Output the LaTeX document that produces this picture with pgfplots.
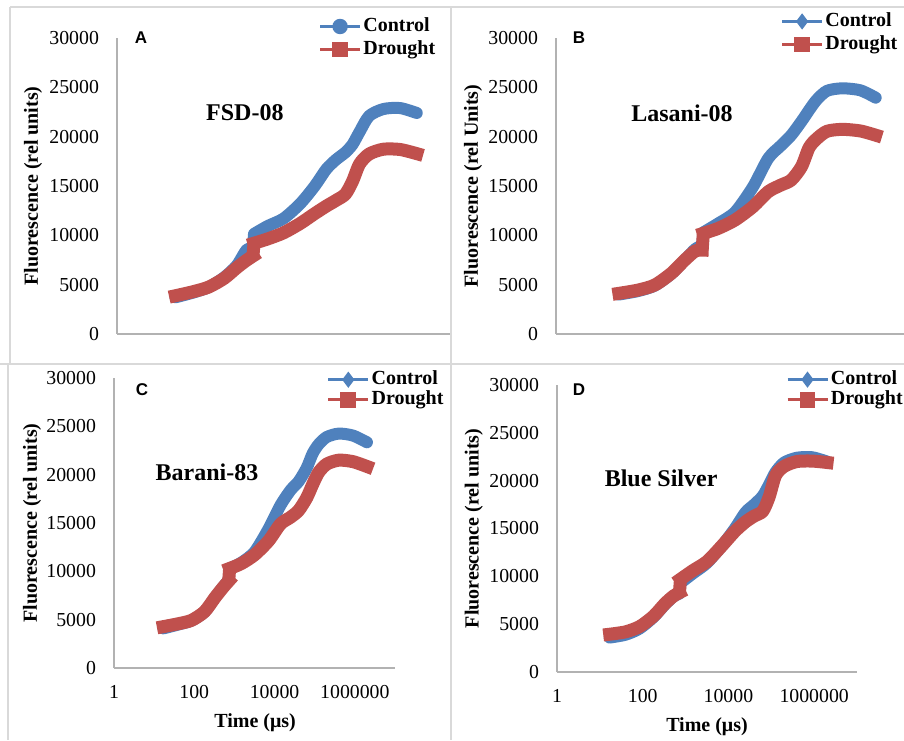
\documentclass[border=0pt]{standalone}
\usepackage{fontspec}
\setmainfont{Liberation Serif}
\newfontfamily\arialfont{Liberation Sans}
\usepackage{pgfplots}
\usepackage{pgfplotstable}
\pgfplotsset{compat=1.18}

\definecolor{ctrl}{HTML}{4F81BD}
\definecolor{drgt}{HTML}{C0504D}
\definecolor{frame}{HTML}{D9D9D9}

% time (us), control, drought
\pgfplotstableread{
t       ctrl   drought
17      3720   3880
40      4200   4290
85      4750   4760
180     5750   5650
330     6950   6720
525     8500   7460
720     8700   7900
760     10150  9200
1480    10950  9640
3160    11700  10250
7080    13200  11200
14100   14950  12180
25100   16700  12960
39800   17650  13530
63100   18400  14170
89100   19200  15470
126000  20500  17240
200000  22100  18240
398000  22800  18730
891000  22900  18700
2000000 22400  18280
}\fsd

\pgfplotstableread{
t       ctrl   drought
17      4000   4120
40      4350   4450
85      4900   4960
180     6100   6150
330     7500   7500
525     8600   8400
720     8950   8500
760     10300  10200
1480    11200  10700
3160    12350  11550
7080    14900  12900
14100   17800  14420
25100   19100  15100
39800   20150  15600
63100   21550  16960
89100   22700  18900
126000  23750  19800
200000  24650  20550
398000  24900  20740
891000  24700  20580
1780000 23950  20150
}\lasani

\pgfplotstableread{
t       ctrl   drought
17      4100   4280
40      4500   4580
85      4900   4930
180     5800   5830
330     7300   7300
525     8400   8350
720     9100   9000
760     10300  10300
1480    10900  10800
3160    12000  11700
7080    14400  13150
14100   16850  14900
25100   18400  15600
39800   19300  16300
63100   20700  17600
89100   22200  19000
126000  23150  20250
200000  23900  21100
398000  24250  21500
891000  24050  21350
2000000 23350  20850
}\barani

\pgfplotstableread{
t       ctrl   drought
17      3600   3950
40      3900   4200
85      4550   4750
180     5750   5850
330     7050   7150
525     7900   7950
720     8200   8300
760     9300   9700
1480    10300  10600
3160    11400  11550
7080    13200  13200
14100   15000  14700
25100   16700  15700
39800   17500  16300
63100   18400  16800
89100   19600  18300
126000  20900  20550
200000  21900  21500
398000  22400  22000
891000  22450  22050
2000000 22000  21900
}\bluesilver

\tikzset{
  titlefont/.style={font=\fontsize{12}{14}\selectfont\bfseries},
  letterfont/.style={font=\arialfont\bfseries\fontsize{8.5}{9}\selectfont},
}

\pgfplotsset{
  every axis/.append style={
    scale only axis,
    xmin=1, xmax=1e7, ymin=0, ymax=30000,
    axis lines*=left,
    axis line style={draw=gray!60, line width=0.6pt},
    major tick length=0pt,
    ytick={0,5000,10000,15000,20000,25000,30000},
    scaled y ticks=false,
    /pgf/number format/set thousands separator={},
    /pgf/number format/assume math mode=true,
    tick label style={font=\fontsize{9.9}{11}\selectfont},
    yticklabel style={xshift=-5.5pt},
    xticklabel style={yshift=-5pt},
    label style={font=\fontsize{10}{12}\selectfont\bfseries},
    clip=false,
    legend cell align=left,
    legend style={draw=none, fill=none, inner sep=0pt, outer sep=0pt,
      font=\fontsize{10}{11}\selectfont\bfseries,
      nodes={inner sep=1pt, text height=7pt, text depth=2pt},
      anchor=north west},
  },
  ctrlline/.style={ctrl, line width=6pt, line cap=round, line join=round, forget plot},
  drgtline/.style={drgt, line width=6.5pt, line cap=rect, line join=round, forget plot},
  % each curve in three pieces: before the step near 0.7 ms, the step, after it
  seg1/.style={skip coords between index={7}{21}, smooth, tension=0.45},
  step/.style={skip coords between index={0}{6}, skip coords between index={8}{21}, line cap=butt},
  seg2/.style={skip coords between index={0}{7}, smooth, tension=0.45},
  leg/.style={legend image code/.code={\draw[mark repeat=2, mark phase=2, ##1]
      plot coordinates {(0pt,0pt) (10pt,0pt) (20pt,0pt)};}},
}

\newcommand{\curves}[1]{%
  \addplot[ctrlline, seg1] table[x=t, y=ctrl] {#1};
  \addplot[ctrlline, step] table[x=t, y=ctrl] {#1};
  \addplot[ctrlline, seg2] table[x=t, y=ctrl] {#1};
  \addplot[drgtline, seg1] table[x=t, y=drought] {#1};
  \addplot[drgtline, step] table[x=t, y=drought] {#1};
  \addplot[drgtline, seg2] table[x=t, y=drought] {#1};
}

\begin{document}
\begin{tikzpicture}
\path[use as bounding box] (0,0) rectangle (452pt,370pt);

% panel frames
\begin{scope}[x=0.5pt, y=-0.5pt, yshift=370pt]
  \draw[frame, line width=0.8pt] (10,7) -- (904,7) (10,7) -- (10,364)
    (8,364) -- (8,740) (0,364) -- (904,364) (451,7) -- (451,740);
\end{scope}

% A
\begin{axis}[xmode=log, anchor=south west, at={(58.5pt,203pt)}, width=166.5pt, height=148pt,
    xtick=\empty,
    ylabel={Fluorescence (rel units)},
    ylabel style={at={(axis description cs:-0.252,0.5)}, anchor=center},
    legend style={at={(axis description cs:0.606,1.076)}, row sep=0.5pt}]
  \curves{\fsd}
  \addlegendimage{leg, ctrl, line width=1.3pt, mark=*, mark size=3.2pt, mark options={solid}}
  \addlegendentry{Control}
  \addlegendimage{leg, drgt, line width=1.3pt, mark=square*, mark size=3.3pt, mark options={solid}}
  \addlegendentry{Drought}
  \node[titlefont] at (axis description cs:0.384,0.747) {FSD-08};
  \node[letterfont] at (axis description cs:0.072,1.0) {A};
\end{axis}

% B
\begin{axis}[xmode=log, anchor=south west, at={(278pt,203pt)}, width=179pt, height=148pt,
    xtick=\empty,
    ylabel={Fluorescence (rel Units)},
    ylabel style={at={(axis description cs:-0.232,0.5)}, anchor=center},
    legend style={at={(axis description cs:0.628,1.093)}, row sep=0.5pt}]
  \curves{\lasani}
  \addlegendimage{leg, ctrl, line width=1.3pt, mark=diamond*, mark size=3pt, mark options={solid}}
  \addlegendentry{Control}
  \addlegendimage{leg, drgt, line width=1.3pt, mark=square*, mark size=3.3pt, mark options={solid}}
  \addlegendentry{Drought}
  \node[titlefont] at (axis description cs:0.352,0.747) {Lasani-08};
  \node[letterfont] at (axis description cs:0.064,1.0) {B};
\end{axis}

% C
\begin{axis}[xmode=log, anchor=south west, at={(57pt,36pt)}, width=140.5pt, height=145pt,
    xtick={1,100,10000,1000000}, xticklabels={1,100,10000,1000000},
    xlabel={Time (μs)},
    xlabel style={at={(axis description cs:0.502,-0.19)}, anchor=center},
    ylabel={Fluorescence (rel units)},
    ylabel style={at={(axis description cs:-0.292,0.5)}, anchor=center},
    legend style={at={(axis description cs:0.758,1.032)}, row sep=-1pt}]
  \curves{\barani}
  \addlegendimage{leg, ctrl, line width=1.3pt, mark=diamond*, mark size=3pt, mark options={solid}}
  \addlegendentry{Control}
  \addlegendimage{leg, drgt, line width=1.3pt, mark=square*, mark size=3.3pt, mark options={solid}}
  \addlegendentry{Drought}
  \node[titlefont] at (axis description cs:0.331,0.676) {Barani-83};
  \node[letterfont] at (axis description cs:0.10,0.959) {C};
\end{axis}

% D
\begin{axis}[xmode=log, anchor=south west, at={(278.5pt,34pt)}, width=150pt, height=143.5pt,
    xtick={1,100,10000,1000000}, xticklabels={1,100,10000,1000000},
    xlabel={Time (μs)},
    xlabel style={at={(axis description cs:0.50,-0.19)}, anchor=center},
    ylabel={Fluorescence (rel units)},
    ylabel style={at={(axis description cs:-0.277,0.5)}, anchor=center},
    legend style={at={(axis description cs:0.764,1.057)}, row sep=-1pt}]
  \curves{\bluesilver}
  \addlegendimage{leg, ctrl, line width=1.3pt, mark=diamond*, mark size=3pt, mark options={solid}}
  \addlegendentry{Control}
  \addlegendimage{leg, drgt, line width=1.3pt, mark=square*, mark size=3.3pt, mark options={solid}}
  \addlegendentry{Drought}
  \node[titlefont] at (axis description cs:0.347,0.676) {Blue Silver};
  \node[letterfont] at (axis description cs:0.073,0.983) {D};
\end{axis}
\end{tikzpicture}
\end{document}
